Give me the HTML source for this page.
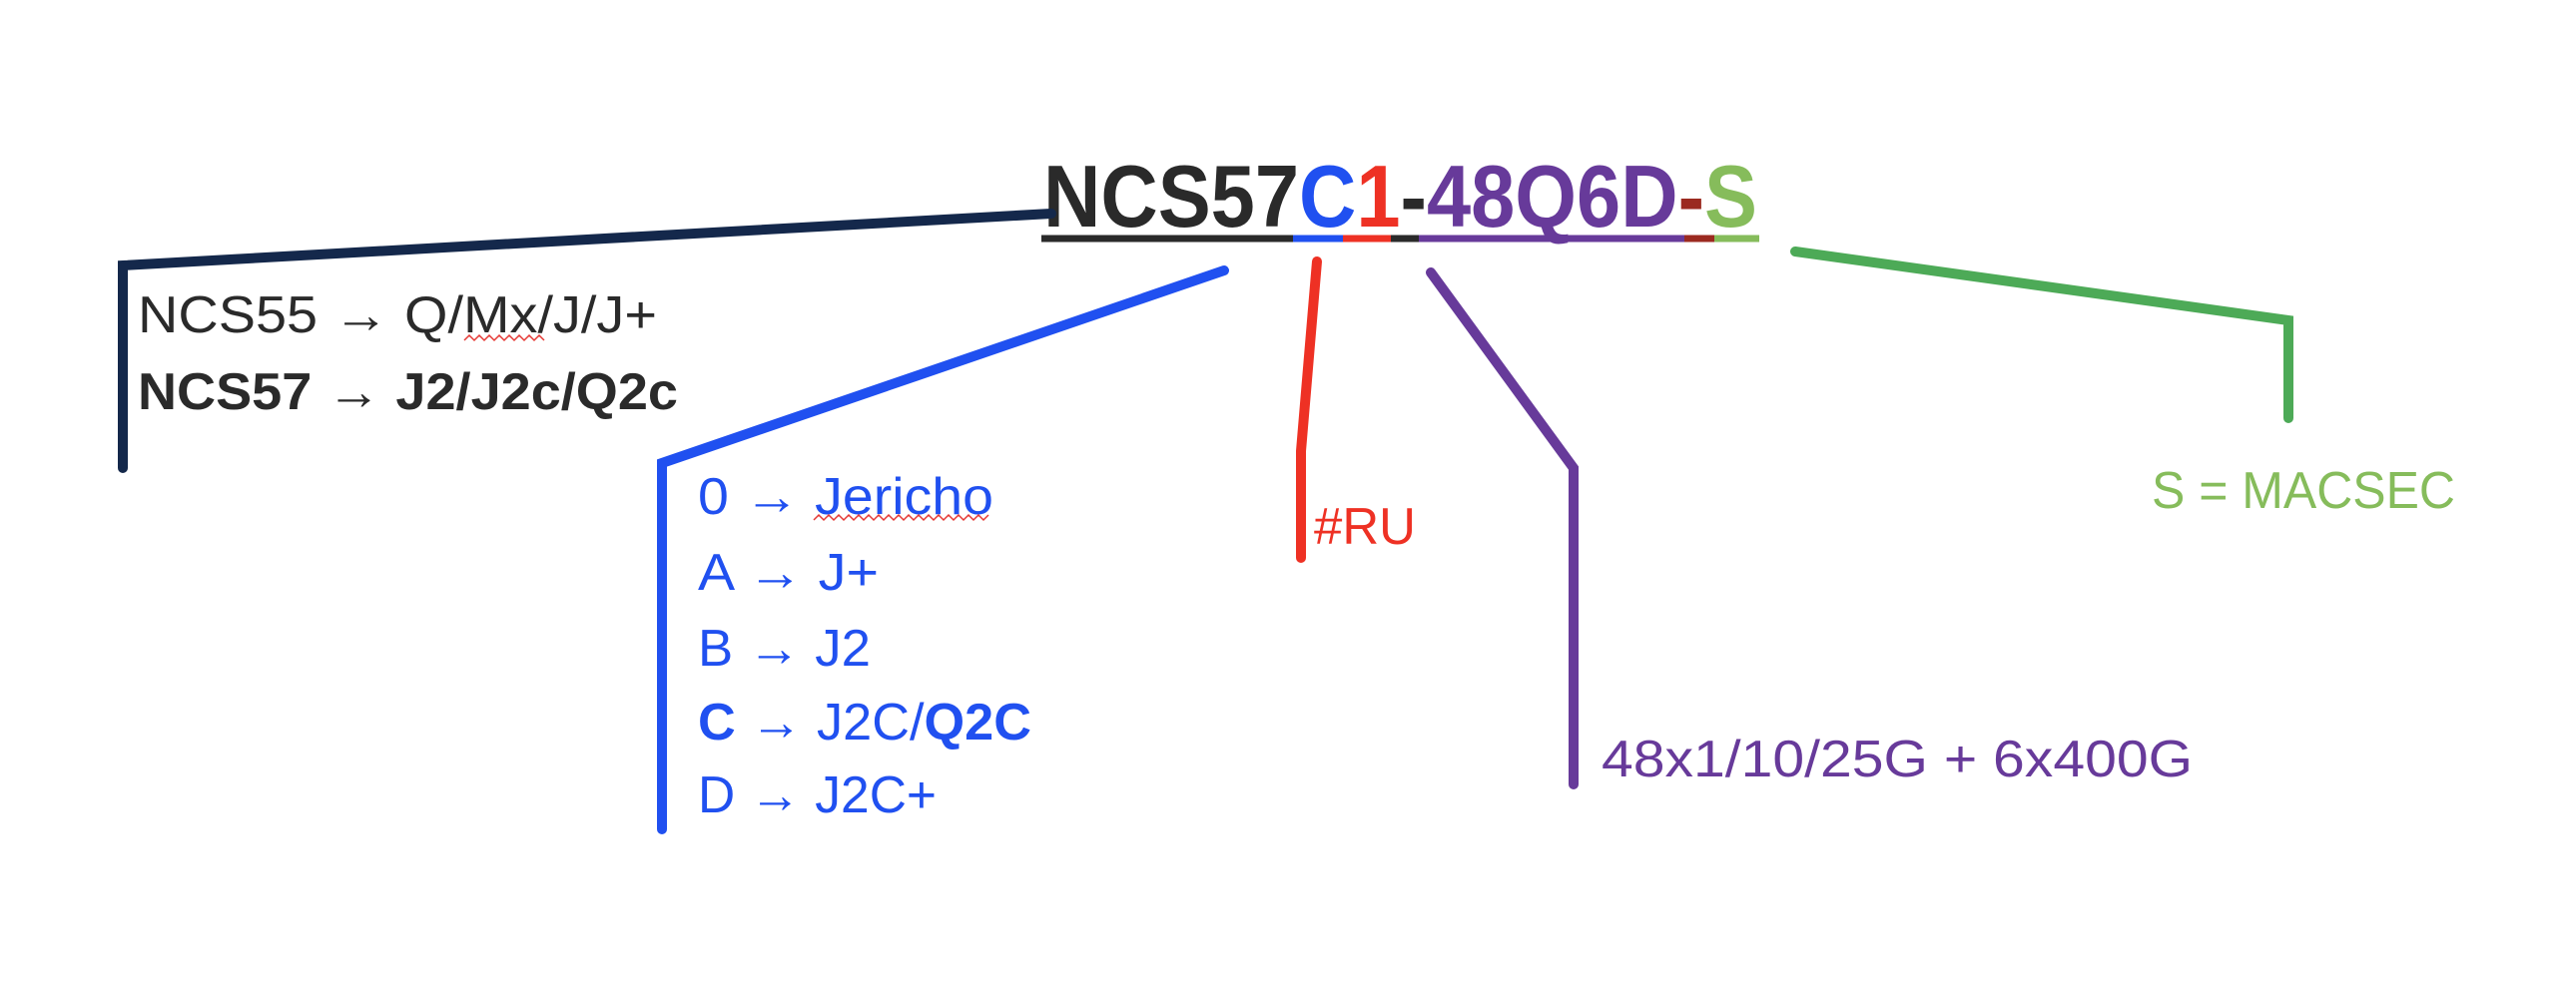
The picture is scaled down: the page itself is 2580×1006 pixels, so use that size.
<!DOCTYPE html>
<html><head><meta charset="utf-8"><style>
html,body{margin:0;padding:0;background:#fff;}
svg{display:block;}
text{font-family:"Liberation Sans",sans-serif;}
</style></head><body>
<svg width="2580" height="1006" viewBox="0 0 2580 1006" xmlns="http://www.w3.org/2000/svg">
<rect width="2580" height="1006" fill="#fff"/>

<text x="1045" y="227" font-size="88" font-weight="bold" textLength="715" lengthAdjust="spacingAndGlyphs"><tspan fill="#2a2a2a">NCS57</tspan><tspan fill="#2050f0">C</tspan><tspan fill="#ee3124">1</tspan><tspan fill="#2a2a2a">-</tspan><tspan fill="#673a9a">48Q6D</tspan><tspan fill="#9b2a20">-</tspan><tspan fill="#86bc5b">S</tspan></text>

<g stroke-width="7">
<line x1="1043" y1="239" x2="1295" y2="239" stroke="#2a2a2a"/>
<line x1="1295" y1="239" x2="1345" y2="239" stroke="#2050f0"/>
<line x1="1345" y1="239" x2="1393" y2="239" stroke="#ee3124"/>
<line x1="1393" y1="239" x2="1421" y2="239" stroke="#2a2a2a"/>
<line x1="1421" y1="239" x2="1687" y2="239" stroke="#673a9a"/>
<line x1="1687" y1="239" x2="1717" y2="239" stroke="#9b2a20"/>
<line x1="1717" y1="239" x2="1762" y2="239" stroke="#86bc5b"/>
</g>

<polyline points="1053,214 123,266 123,469" fill="none" stroke="#14284b" stroke-width="10" stroke-linecap="round"/>
<text x="138" y="333" font-size="52" fill="#2a2a2a" textLength="520" lengthAdjust="spacingAndGlyphs">NCS55 <tspan font-weight="bold">→</tspan> Q/Mx/J/J+</text>
<path d="M465 341 l5 -5 l5 5 l5 -5 l5 5 l5 -5 l5 5 l5 -5 l5 5 l5 -5 l5 5 l5 -5 l5 5 l5 -5 l5 5 l5 -5 l5 5" fill="none" stroke="#e53935" stroke-width="1.5"/>
<text x="138" y="410" font-size="52" font-weight="bold" fill="#2a2a2a" textLength="541" lengthAdjust="spacingAndGlyphs">NCS57 → J2/J2c/Q2c</text>

<polyline points="1226,271 663,464 663,831" fill="none" stroke="#2050f0" stroke-width="10" stroke-linecap="round"/>
<g fill="#2050f0" font-size="52">
<text x="699" y="515" textLength="296" lengthAdjust="spacingAndGlyphs">0 <tspan font-weight="bold">→</tspan> Jericho</text>
<text x="699" y="591" textLength="181" lengthAdjust="spacingAndGlyphs">A <tspan font-weight="bold">→</tspan> J+</text>
<text x="699" y="667" textLength="173" lengthAdjust="spacingAndGlyphs">B <tspan font-weight="bold">→</tspan> J2</text>
<text x="699" y="741" textLength="334" lengthAdjust="spacingAndGlyphs"><tspan font-weight="bold">C</tspan> <tspan font-weight="bold">→</tspan> J2C/<tspan font-weight="bold">Q2C</tspan></text>
<text x="699" y="814" textLength="239" lengthAdjust="spacingAndGlyphs">D <tspan font-weight="bold">→</tspan> J2C+</text>
</g>
<path d="M815 521 l5 -5 l5 5 l5 -5 l5 5 l5 -5 l5 5 l5 -5 l5 5 l5 -5 l5 5 l5 -5 l5 5 l5 -5 l5 5 l5 -5 l5 5 l5 -5 l5 5 l5 -5 l5 5 l5 -5 l5 5 l5 -5 l5 5 l5 -5 l5 5 l5 -5 l5 5 l5 -5 l5 5 l5 -5 l5 5 l5 -5 l5 5 l5 -5" fill="none" stroke="#e53935" stroke-width="1.5"/>

<polyline points="1319,262 1303,452 1303,559" fill="none" stroke="#ee3124" stroke-width="10" stroke-linecap="round"/>
<text x="1316" y="545" font-size="52" fill="#ee3124" textLength="102" lengthAdjust="spacingAndGlyphs">#RU</text>

<polyline points="1433,273 1576,469 1576,786" fill="none" stroke="#673a9a" stroke-width="10" stroke-linecap="round"/>
<text x="1604" y="778" font-size="52" fill="#673a9a" textLength="592" lengthAdjust="spacingAndGlyphs">48x1/10/25G + 6x400G</text>

<polyline points="1798,252 2292,321 2292,419" fill="none" stroke="#4daa57" stroke-width="10" stroke-linecap="round"/>
<text x="2155" y="509" font-size="52" fill="#86bc5b" textLength="304" lengthAdjust="spacingAndGlyphs">S = MACSEC</text>
</svg>
</body></html>
